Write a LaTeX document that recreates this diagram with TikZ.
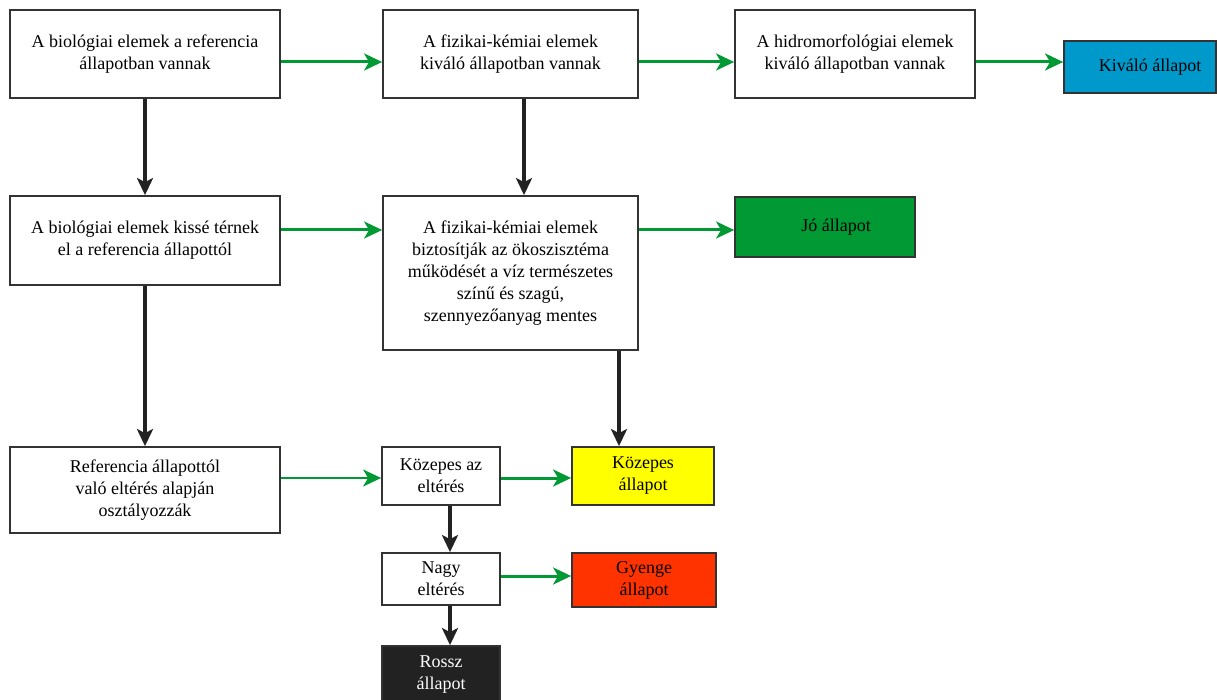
\documentclass[tikz,border=0pt]{standalone}
\usepackage{fontspec}
\setmainfont{Liberation Serif}
\usetikzlibrary{arrows.meta}
\definecolor{arrgreen}{HTML}{009933}
\definecolor{bluefill}{HTML}{0099CC}
\definecolor{greenfill}{HTML}{009933}
\definecolor{yellowfill}{HTML}{FFFF00}
\definecolor{redfill}{HTML}{FF3300}
\definecolor{blackfill}{HTML}{222222}
\definecolor{bordercol}{HTML}{333333}
\tikzset{
  box/.style={draw=bordercol, line width=1.8pt, fill=white, inner sep=0pt, align=center,
    font=\fontsize{18}{22}\selectfont, text=black},
  garrow/.style={draw=arrgreen, line width=3pt, -{Stealth[length=18pt,width=17pt,inset=5pt]}},
  thinarrow/.style={draw=arrgreen, line width=1.8pt, -{Stealth[length=18pt,width=17pt,inset=5pt]}},
  karrow/.style={draw=blackfill, line width=4pt, -{Stealth[length=17pt,width=16pt,inset=4pt]}}
}
\begin{document}
\begin{tikzpicture}[x=1pt,y=-1pt]
\useasboundingbox (0,0) rectangle (1217,700);
\clip (0,0) rectangle (1217,700);
\fill[white] (0,0) rectangle (1217,700);
% row 1
\node[box, minimum width=270pt, minimum height=88pt] (b1) at (145,54) {A biológiai elemek a referencia\\állapotban vannak};
\node[box, minimum width=255pt, minimum height=88pt] (b2) at (510.5,54) {A fizikai-kémiai elemek\\kiváló állapotban vannak};
\node[box, minimum width=240pt, minimum height=88pt] (b3) at (855,54) {A hidromorfológiai elemek\\kiváló állapotban vannak};
\node[box, fill=bluefill, minimum width=152pt, minimum height=52pt] (b4) at (1140,67) {};
\node[font=\fontsize{18}{22}\selectfont] (t4) at (1150,67) {Kiváló állapot};
% row 2
\node[box, minimum width=270pt, minimum height=89pt] (b5) at (145,240.5) {A biológiai elemek kissé térnek\\el a referencia állapottól};
\node[box, minimum width=255pt, minimum height=154pt] (b6) at (510.5,273) {A fizikai-kémiai elemek\\biztosítják az ökoszisztéma\\működését a víz természetes\\színű és szagú,\\szennyezőanyag mentes};
\node[box, fill=greenfill, minimum width=180pt, minimum height=60pt] (b7) at (825,227) {};
\node[font=\fontsize{18}{22}\selectfont] (t7) at (836,227) {Jó állapot};
% row 3
\node[box, minimum width=270pt, minimum height=86pt] (b8) at (145,490) {Referencia állapottól\\való eltérés alapján\\osztályozzák};
\node[box, minimum width=118pt, minimum height=58pt] (b9) at (441,476) {Közepes az\\eltérés};
\node[box, fill=yellowfill, minimum width=142pt, minimum height=58pt] (b10) at (643,476) {Közepes\\állapot};
% row 4
\node[box, minimum width=118pt, minimum height=52pt] (b11) at (441,579) {Nagy\\eltérés};
\node[box, fill=redfill, minimum width=144pt, minimum height=54pt] (b12) at (644,580) {Gyenge\\állapot};
\node[box, fill=blackfill, text=white, minimum width=118pt, minimum height=58pt] (b13) at (441,675) {Rossz\\állapot};
% helper coordinates
\coordinate (r1) at (0,62);
\coordinate (r2) at (0,230);
\coordinate (r3) at (0,478);
\coordinate (r4) at (0,576);
\coordinate (v1) at (145,0);
\coordinate (v2) at (524,0);
\coordinate (v3) at (619,0);
\coordinate (v4) at (450,0);
% green arrows
\draw[garrow] (b1.east |- r1) -- (b2.west |- r1);
\draw[garrow] (b2.east |- r1) -- (b3.west |- r1);
\draw[garrow] (b3.east |- r1) -- (b4.west |- r1);
\draw[garrow] (b5.east |- r2) -- (b6.west |- r2);
\draw[garrow] (b6.east |- r2) -- (b7.west |- r2);
\draw[thinarrow] (b8.east |- r3) -- (b9.west |- r3);
\draw[garrow] (b9.east |- r3) -- (b10.west |- r3);
\draw[garrow] (b11.east |- r4) -- (b12.west |- r4);
% black arrows
\draw[karrow] (b1.south -| v1) -- (b5.north -| v1);
\draw[karrow] (b5.south -| v1) -- (b8.north -| v1);
\draw[karrow] (b2.south -| v2) -- (b6.north -| v2);
\draw[karrow] (b6.south -| v3) -- (b10.north -| v3);
\draw[karrow] (b9.south -| v4) -- (b11.north -| v4);
\draw[karrow] (b11.south -| v4) -- (b13.north -| v4);
\end{tikzpicture}
\end{document}
